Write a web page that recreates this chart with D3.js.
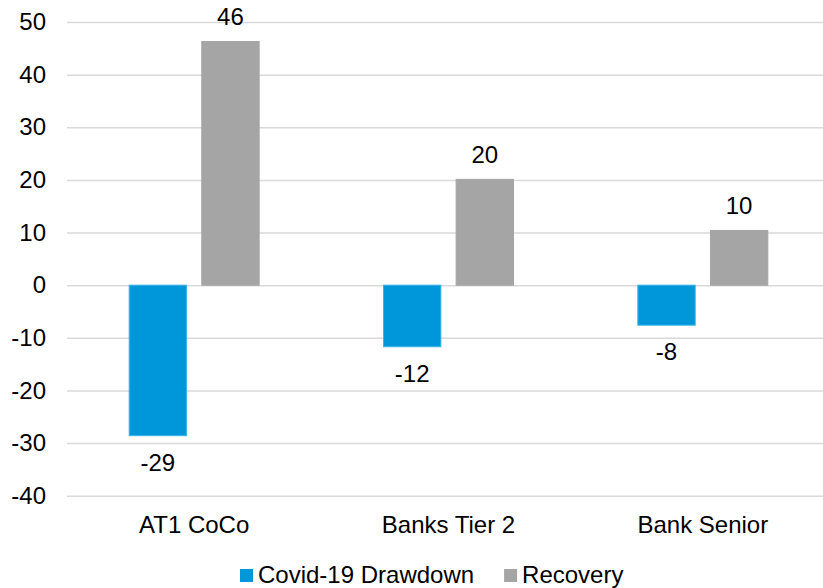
<!DOCTYPE html>
<html>
<head>
<meta charset="utf-8">
<script src="https://cdn.jsdelivr.net/npm/d3@7"></script>
<style>
  html, body { margin: 0; padding: 0; background: #fff; }
  svg { display: block; font-family: "Liberation Sans", Arial, sans-serif; }
</style>
</head>
<body>
<svg id="chart" width="823" height="588"></svg>
<script>
// Bond segments and their moves during the Covid-19 drawdown and the recovery
const categories = ["AT1 CoCo", "Banks Tier 2", "Bank Senior"];
const seriesNames = ["Covid-19 Drawdown", "Recovery"];
const drawdown = [-28.6, -11.7, -7.6];
const recovery = [46.3, 20.1, 10.4];
const yTicks = [-40, -30, -20, -10, 0, 10, 20, 30, 40, 50];

const colors = { "Covid-19 Drawdown": "#0097DA", "Recovery": "#A5A5A5" };
const strokes = { "Covid-19 Drawdown": "#3DB3E8", "Recovery": "#A5A5A5" };

const rows = categories.map((c, i) => ({
  category: c,
  values: [
    { series: seriesNames[0], value: drawdown[i] },
    { series: seriesNames[1], value: recovery[i] }
  ]
}));

const svg = d3.select("#chart");
const fontSize = 24;
const plot = { left: 67, right: 830, top: 22, bottom: 495.7 };

const y = d3.scaleLinear().domain([-40, 50]).range([plot.bottom, plot.top]);
const x0 = d3.scaleBand().domain(categories).range([plot.left, plot.right]).paddingInner(0).paddingOuter(0);
const groupPad = x0.bandwidth() * 0.2445;
const x1 = d3.scaleBand().domain(seriesNames)
  .range([groupPad, x0.bandwidth() - groupPad]).paddingInner(0.21).paddingOuter(0);

const fmt = v => String(Math.round(v));

// Gridlines and value axis
const yAxis = svg.append("g")
  .attr("transform", `translate(${plot.left},0)`)
  .call(d3.axisLeft(y).tickValues(yTicks).tickSize(-(plot.right - plot.left)).tickPadding(21).tickFormat(d => String(d)));
yAxis.select(".domain").remove();
yAxis.selectAll(".tick line").attr("stroke", "#D9D9D9").attr("stroke-width", 1.5);
yAxis.selectAll(".tick text")
  .attr("fill", "#000").attr("font-size", fontSize)
  .attr("font-family", "Liberation Sans, Arial, sans-serif");

// Bars
const groups = svg.append("g").selectAll("g")
  .data(rows).join("g")
  .attr("transform", d => `translate(${x0(d.category)},0)`);

groups.selectAll("rect")
  .data(d => d.values).join("rect")
  .attr("x", d => x1(d.series))
  .attr("width", x1.bandwidth())
  .attr("y", d => y(Math.max(0, d.value)))
  .attr("height", d => Math.abs(y(d.value) - y(0)))
  .attr("fill", d => colors[d.series])
  .attr("stroke", d => strokes[d.series])
  .attr("stroke-width", 1);

// Value labels
groups.selectAll("text.val")
  .data(d => d.values).join("text")
  .attr("class", "val")
  .attr("x", d => x1(d.series) + x1.bandwidth() / 2)
  .attr("y", d => d.value >= 0 ? y(d.value) - 16.5 : y(d.value) + 35)
  .attr("text-anchor", "middle")
  .attr("font-size", fontSize)
  .attr("fill", "#000")
  .text(d => fmt(d.value));

// Category axis
const xAxis = svg.append("g")
  .attr("transform", `translate(0,${plot.bottom})`)
  .call(d3.axisBottom(x0).tickSize(0).tickPadding(20.3));
xAxis.select(".domain").remove();
xAxis.selectAll(".tick text")
  .attr("fill", "#000").attr("font-size", fontSize)
  .attr("font-family", "Liberation Sans, Arial, sans-serif");

// Legend
const legend = svg.append("g").attr("transform", "translate(240,569)");
let lx = 0;
seriesNames.forEach(name => {
  const item = legend.append("g").attr("transform", `translate(${lx},0)`);
  item.append("rect").attr("width", 13).attr("height", 13).attr("fill", colors[name]);
  const t = item.append("text").attr("x", 18).attr("y", 14)
    .attr("font-size", fontSize).attr("fill", "#000").text(name);
  lx += 18 + t.node().getComputedTextLength() + 30;
});
</script>
</body>
</html>
